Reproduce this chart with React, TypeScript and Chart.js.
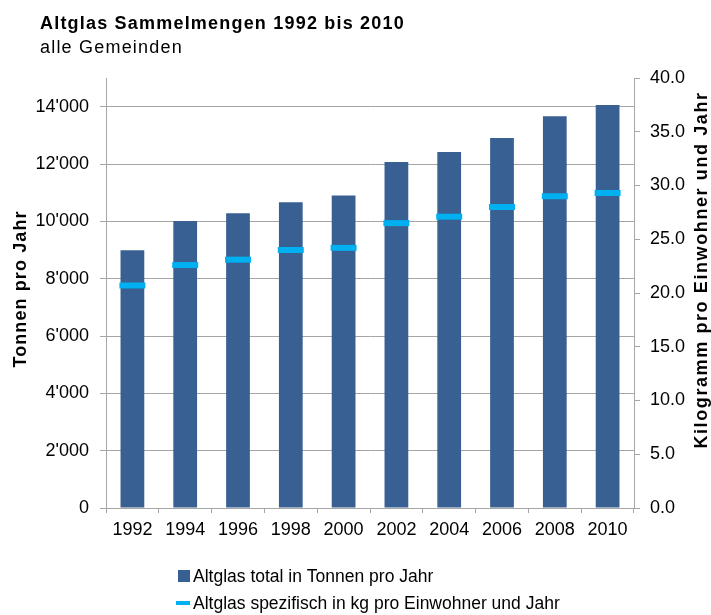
import React, { useEffect, useRef } from "react";
import { Chart, registerables } from "chart.js";

Chart.register(...registerables);

const years = ["1992", "1994", "1996", "1998", "2000", "2002", "2004", "2006", "2008", "2010"];
const tonnen = [8990, 10010, 10280, 10670, 10900, 12070, 12420, 12910, 13670, 14060];
const kgProEinwohner = [20.7, 22.6, 23.1, 24.0, 24.2, 26.5, 27.1, 28.0, 29.0, 29.3];

const leftTicks = [0, 2000, 4000, 6000, 8000, 10000, 12000, 14000];
const rightTicks = [0, 5, 10, 15, 20, 25, 30, 35, 40];

const titleText = "Altglas Sammelmengen 1992 bis 2010";
const subtitleText = "alle Gemeinden";
const leftAxisTitle = "Tonnen pro Jahr";
const rightAxisTitle = "Kilogramm pro Einwohner und Jahr";
const legendBar = "Altglas total in Tonnen pro Jahr";
const legendLine = "Altglas spezifisch in kg pro Einwohner und Jahr";

const BAR_COLOR = "#386093";
const LINE_COLOR = "#00B0F0";
const GRID_COLOR = "#A6A6A6";
const FONT = "'Liberation Sans', Arial, sans-serif";

const fmtThousands = (v: number) =>
  String(Math.round(v)).replace(/\B(?=(\d{3})+(?!\d))/g, "'");

const setSpacing = (ctx: any, s: string) => {
  try {
    ctx.letterSpacing = s;
  } catch (e) {
    /* ignore */
  }
};

const decorPlugin = {
  id: "decor",
  afterDraw(chart: any) {
    const ctx = chart.ctx as CanvasRenderingContext2D;
    ctx.save();
    ctx.fillStyle = "#000";
    ctx.textAlign = "left";
    ctx.textBaseline = "alphabetic";
    // title & subtitle
    setSpacing(ctx, "1.2px");
    ctx.font = `bold 18px ${FONT}`;
    ctx.fillText(titleText, 40, 29);
    ctx.font = `18px ${FONT}`;
    ctx.fillText(subtitleText, 40, 53);

    // axis titles
    ctx.font = `bold 18px ${FONT}`;
    ctx.textAlign = "center";
    ctx.textBaseline = "middle";
    setSpacing(ctx, "1.1px");
    ctx.save();
    ctx.translate(21, 289);
    ctx.rotate(-Math.PI / 2);
    ctx.fillText(leftAxisTitle, 0, 0);
    ctx.restore();
    setSpacing(ctx, "1.6px");
    ctx.save();
    ctx.translate(702, 270);
    ctx.rotate(-Math.PI / 2);
    ctx.fillText(rightAxisTitle, 0, 0);
    ctx.restore();

    // legend
    setSpacing(ctx, "0px");
    ctx.textAlign = "left";
    ctx.textBaseline = "alphabetic";
    ctx.font = `17.5px ${FONT}`;
    ctx.fillStyle = BAR_COLOR;
    ctx.fillRect(178, 570, 12, 12);
    ctx.fillStyle = "#000";
    ctx.fillText(legendBar, 193, 582);
    ctx.strokeStyle = LINE_COLOR;
    ctx.lineWidth = 4;
    ctx.beginPath();
    ctx.moveTo(176, 603);
    ctx.lineTo(190, 603);
    ctx.stroke();
    ctx.fillText(legendLine, 193, 609);
    ctx.restore();
  },
};

export default function App() {
  const canvasRef = useRef<HTMLCanvasElement | null>(null);

  useEffect(() => {
    const canvas = canvasRef.current;
    if (!canvas) return;
    const chart = new Chart(canvas, {
      type: "bar",
      data: {
        labels: years,
        datasets: [
          {
            type: "line",
            label: legendLine,
            data: kgProEinwohner,
            yAxisID: "y1",
            showLine: false,
            pointStyle: "line",
            pointRadius: 13,
            pointHoverRadius: 13,
            pointBorderWidth: 6,
            pointBorderColor: LINE_COLOR,
            borderColor: LINE_COLOR,
            backgroundColor: LINE_COLOR,
            order: 0,
          } as any,
          {
            type: "bar",
            label: legendBar,
            data: tonnen,
            yAxisID: "y",
            backgroundColor: BAR_COLOR,
            categoryPercentage: 1,
            barPercentage: 0.45,
            order: 1,
          },
        ],
      },
      plugins: [decorPlugin],
      options: {
        animation: false,
        responsive: true,
        maintainAspectRatio: false,
        layout: { padding: { top: 78, bottom: 67, left: 0, right: 0 } },
        plugins: {
          legend: { display: false },
          title: { display: false },
          tooltip: { enabled: false },
        },
        scales: {
          x: {
            grid: {
              display: true,
              drawOnChartArea: false,
              drawTicks: true,
              tickLength: 5,
              color: GRID_COLOR,
              offset: true,
            },
            border: { display: true, color: GRID_COLOR, width: 1 },
            ticks: {
              color: "#000",
              font: { family: FONT, size: 18 },
              padding: 6,
              maxRotation: 0,
              autoSkip: false,
            },
            afterFit: (scale: any) => {
              scale.height = 40;
            },
          },
          y: {
            position: "left",
            min: 0,
            max: 15000,
            grid: {
              color: GRID_COLOR,
              tickLength: 6,
              drawTicks: true,
            },
            border: { display: true, color: GRID_COLOR },
            ticks: {
              autoSkip: false,
              color: "#000",
              font: { family: FONT, size: 18 },
              padding: 11,
              callback: (v: any) => fmtThousands(Number(v)),
            },
            afterBuildTicks: (scale: any) => {
              scale.ticks = leftTicks.map((v) => ({ value: v }));
            },
            afterFit: (scale: any) => {
              scale.width = 106;
            },
          },
          y1: {
            position: "right",
            min: 0,
            max: 40,
            grid: {
              drawOnChartArea: false,
              color: GRID_COLOR,
              tickLength: 6,
              drawTicks: true,
            },
            border: { display: true, color: GRID_COLOR },
            ticks: {
              autoSkip: false,
              color: "#000",
              font: { family: FONT, size: 18 },
              padding: 10,
              callback: (v: any) => Number(v).toFixed(1),
            },
            afterBuildTicks: (scale: any) => {
              scale.ticks = rightTicks.map((v) => ({ value: v }));
            },
            afterFit: (scale: any) => {
              scale.width = 77;
            },
          },
        },
      },
    });
    return () => chart.destroy();
  }, []);

  return (
    <div style={{ position: "fixed", left: 0, top: 0, width: 711, height: 615, background: "#fff" }}>
      <canvas ref={canvasRef} />
    </div>
  );
}
